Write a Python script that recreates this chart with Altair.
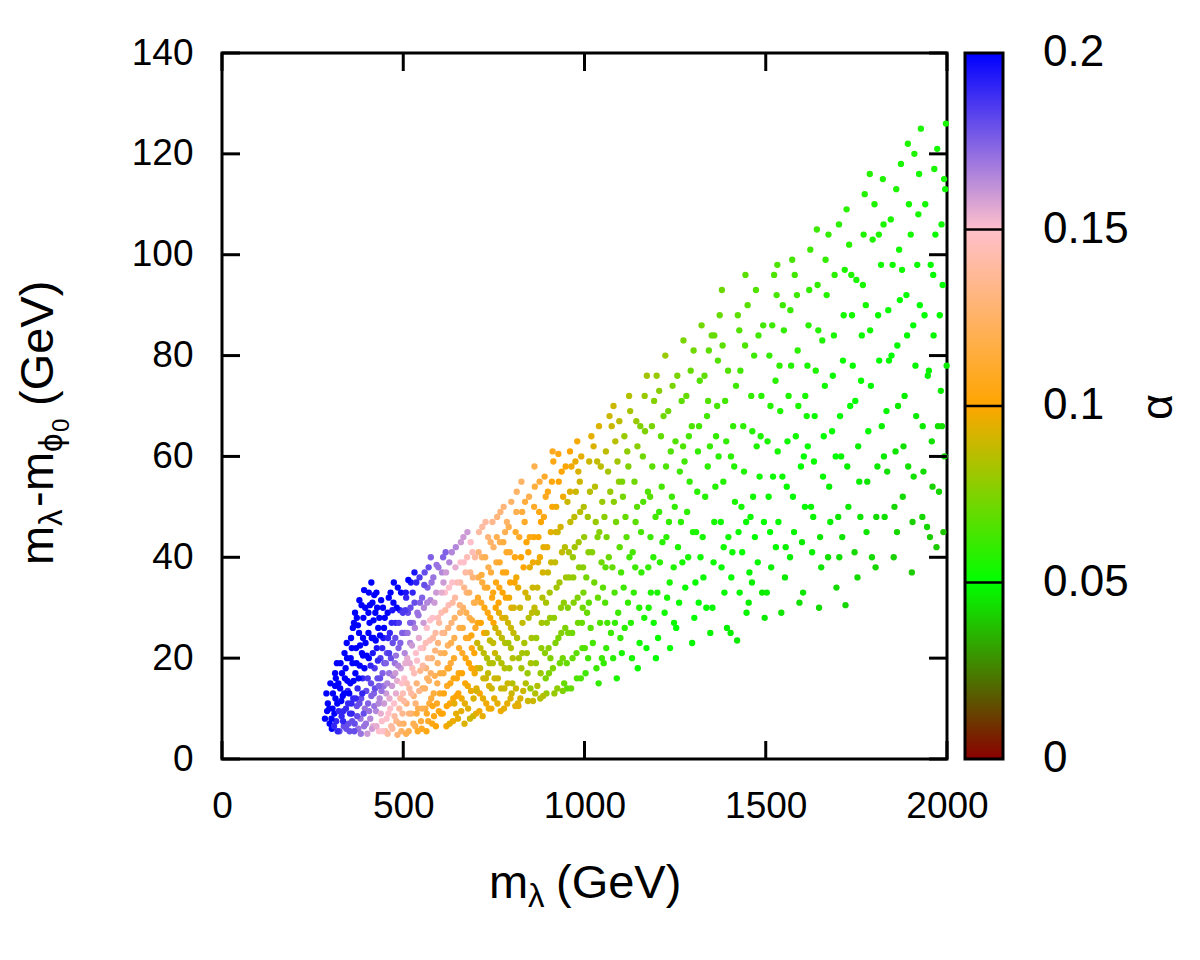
import altair as alt
import pandas as pd

# (m_lambda [GeV], m_lambda - m_phi0 [GeV], alpha)
pts_250_500 = [
(284,8,.2),(292,11,.2),(297,7,.2),(290,9.5,.2),
(303,6,.2),(306,13,.2),(310,9,.2),(312,17,.2),(315,7.5,.19),(318,11,.2),(321,15,.2),(324,5.5,.18),(327,19,.2),(330,8.5,.19),(333,12.5,.2),(336,6.5,.18),(339,16,.2),(342,10,.19),(345,20,.2),(347,13.5,.19),(349,7,.18),(341,18,.2),
(352,5.5,.18),(354,15,.2),(356,24,.2),(358,9,.19),(360,19,.2),(362,12,.19),(364,27,.2),(366,7,.18),(368,17,.2),(370,22,.2),(372,10.5,.18),(374,14,.19),(376,6,.17),(378,25,.2),(380,18.5,.2),(382,8,.17),(384,12,.18),(386,21,.2),(388,16,.19),(390,28,.2),(392,6.5,.17),(394,10,.17),(396,23,.2),(398,13.5,.18),(385,30.5,.2),(392,33.5,.2),(405,33,.2),(420,32.5,.2),
(401,5,.16),(403,11,.175),(405,20,.2),(407,27,.2),(409,8,.165),(411,15,.18),(413,24,.2),(415,31,.2),(417,6.5,.155),(419,13,.175),(421,18,.185),(423,29,.2),(425,9.5,.165),(427,22,.195),(429,16,.18),(431,26,.2),(433,5.5,.15),(435,12,.165),(437,20,.185),(439,31.5,.2),(441,7.5,.15),(443,17,.175),(445,24,.195),(447,11,.16),(449,28,.2),(446,14.5,.17),(438,9,.155),(428,30,.2),
(451,5.5,.14),(453,13,.16),(455,21,.18),(457,29,.2),(459,9,.15),(461,17,.17),(463,25,.19),(465,33,.2),(467,6.5,.14),(469,14.5,.16),(471,23,.18),(473,31,.2),(475,11,.15),(477,19,.17),(479,27,.19),(481,7.5,.135),(483,15.5,.155),(485,34,.2),(487,22,.175),(489,10,.14),(491,29.5,.19),(493,18,.16),(495,5.5,.125),(497,25,.175),(499,13,.145),(484,4.8,.13),(462,12,.155),(488,27,.185),
(288,13,.2),(299,15,.2),(305,10,.2),(309,6.5,.19),(313,12,.2),(317,19,.2),(322,9.5,.19),(326,14,.2),(331,17,.2),(334,7.5,.19),(338,21,.2),(343,6,.18),(346,15.5,.2),(329,11.5,.2),(319,5.5,.19),(302,8,.2),(335,9.5,.19),(348,11,.19),(344,23,.2),(312,14.5,.2),
(351,13,.2),(355,20,.2),(357,11,.19),(361,26,.2),(363,15.5,.2),(365,5.5,.18),(367,29,.2),(369,12,.19),(371,19,.2),(373,8.5,.18),(375,26.5,.2),(377,16,.2),(379,11,.18),(381,22.5,.2),(383,5,.17),(387,13,.19),(389,24,.2),(391,9,.18),(393,18,.2),(395,30,.2),(397,7,.17),(399,20.5,.2),(359,7.5,.18),(353,9,.19),(379,31.5,.2),
(402,16,.185),(404,25,.2),(406,9.5,.17),(408,30.5,.2),(410,18.5,.19),(412,12.5,.175),(414,6,.16),(416,21,.195),(418,27.5,.2),(420,10.5,.17),(422,14,.18),(424,23.5,.2),(426,6.5,.155),(430,19.5,.19),(432,11,.165),(434,28,.2),(436,16,.18),(440,13.5,.17),(442,22,.19),(444,5.5,.15),(448,19,.18),(436,24.5,.2),(426,33,.2),(444,30,.2),(412,35,.2),
(452,19,.175),(454,8,.15),(456,15,.165),(458,24,.19),(460,32,.2),(464,10,.15),(466,20,.18),(468,27,.19),(470,6,.14),(472,16.5,.165),(474,35,.2),(476,8.5,.14),(478,24,.18),(480,13,.155),(482,30,.2),(486,18.5,.165),(490,7,.13),(492,23,.175),(494,33,.2),(496,15,.15),(498,9,.135),(457,5,.14),(480,20.5,.17),(470,29.5,.195),(499,29,.185),
(296,10,.2),(314,16,.2),(337,13,.2),(358,22,.2),(372,28,.2),(389,20.5,.2),(404,29,.2),(418,24,.2),(433,14.5,.175),(447,26,.2),(461,21,.185),(478,17,.16),(492,12,.14),
]

pts_500_750 = [
(501,7,.125),(503,16,.15),(505,25,.175),(507,33,.195),(509,11,.13),(511,20,.155),(513,29,.18),(515,5.5,.12),(517,14,.14),(519,23,.165),(521,35,.195),(523,9,.125),(525,18,.145),(527,27,.17),(529,12.5,.13),(531,31,.18),(533,6.5,.12),(535,21,.15),(537,15,.13),(539,29,.17),(541,10,.12),(543,24,.155),(545,36,.185),(547,17.5,.135),(549,7.5,.115),(546,31,.175),
(551,6,.11),(553,14,.125),(555,22,.145),(557,30,.165),(559,37,.18),(561,10,.115),(563,18,.13),(565,26,.15),(567,34,.175),(569,7.5,.11),(571,15.5,.125),(573,23.5,.145),(575,31.5,.165),(577,12,.115),(579,20,.13),(581,28,.15),(583,36,.17),(585,8.5,.105),(587,16.5,.12),(589,25,.14),(591,33,.16),(593,11,.11),(595,19,.125),(597,38,.17),(599,27,.14),(590,6.5,.1),
(601,13,.11),(603,21,.125),(605,29,.145),(607,37,.165),(609,9,.1),(611,17,.115),(613,25,.13),(615,33,.15),(617,41,.175),(619,6.5,.098),(621,14.5,.11),(623,22.5,.125),(625,30.5,.145),(627,39,.165),(629,11,.1),(631,19,.115),(633,27,.13),(635,35,.15),(637,7.5,.097),(639,16,.105),(641,24,.12),(643,32,.14),(645,42,.165),(647,12.5,.1),
(651,8,.095),(653,17,.105),(655,26,.12),(657,35,.14),(659,43,.16),(661,12,.097),(663,21,.11),(665,30,.125),(667,39,.15),(669,7,.093),(671,15,.1),(673,24,.11),(675,33,.13),(677,45,.16),(679,10,.094),(681,19,.1),(683,28,.12),(685,37,.135),(687,13.5,.096),(689,22,.105),(691,41,.145),(693,8.5,.09),(695,31,.12),(697,17,.097),(699,26,.11),
(701,9,.095),(703,18,.095),(705,27,.105),(707,36,.12),(709,45,.14),(711,13,.1),(713,22,.088),(715,31,.11),(717,40,.125),(719,8.5,.095),(721,16,.09),(723,25,.1),(725,34,.115),(727,47,.14),(729,11,.097),(731,20,.085),(733,29,.105),(735,38,.12),(737,14.5,.093),(739,23.5,.088),(741,43,.125),(743,10,.097),(745,32,.105),(747,19,.085),(749,27,.1),
(502,11.5,.14),(504,21,.165),(506,29.5,.185),(508,5,.12),(510,15,.145),(512,25,.17),(514,35.5,.2),(516,9,.13),(518,19,.155),(520,30,.18),(522,13,.14),(524,22.5,.16),(526,33,.19),(528,7,.12),(530,17,.145),(532,26,.165),(534,11,.13),(536,35,.19),(538,19.5,.15),(540,5.5,.11),(542,28.5,.17),(544,13.5,.135),(548,22,.15),(531,37,.195),(508,32,.19),
(552,10,.12),(554,18.5,.14),(556,27,.16),(558,34.5,.18),(560,14,.125),(562,23,.145),(564,5.5,.105),(566,31,.165),(568,20,.135),(570,38,.18),(572,11,.115),(574,27.5,.15),(576,17,.125),(578,35,.17),(580,7,.105),(582,24,.14),(584,13,.115),(586,31,.16),(588,21.5,.13),(592,38.5,.17),(594,15,.12),(596,28,.145),(598,9.5,.105),(576,40,.175),(565,9,.11),
(602,17,.115),(604,9,.1),(606,33,.155),(608,25,.135),(610,40,.175),(612,13,.105),(614,21,.12),(616,29.5,.14),(618,37,.16),(620,10.5,.1),(622,18,.115),(624,26,.13),(626,34,.15),(628,7,.095),(630,15,.105),(632,23,.12),(634,41,.165),(636,31,.14),(638,12,.1),(640,20,.11),(642,28,.125),(644,38,.155),(646,9,.095),(648,16,.105),(649,35,.145),
(652,13,.1),(654,22,.11),(656,30.5,.13),(658,39,.15),(660,9.5,.095),(662,17,.1),(664,26,.115),(666,44,.16),(668,34,.135),(670,11,.095),(672,20,.105),(674,29,.12),(676,40,.145),(678,14.5,.097),(680,24,.11),(682,33,.125),(684,8,.09),(686,43,.15),(688,18,.1),(690,27.5,.115),(692,36,.13),(694,12,.093),(696,21,.1),(698,40,.14),(698,31,.12),
(702,14,.095),(704,23,.09),(706,32,.11),(708,41,.13),(710,9.5,.097),(712,18,.09),(714,27,.1),(716,36.5,.115),(718,46,.14),(720,12,.095),(722,21,.087),(724,30,.105),(726,40,.12),(728,16,.09),(730,25,.093),(732,34,.11),(734,44,.13),(736,10,.097),(738,19,.085),(740,28,.1),(742,37,.115),(744,14,.09),(746,47,.135),(748,23,.088),(748,33,.105),
(506,19,.155),(519,27,.175),(537,9,.115),(552,32,.175),(566,16,.125),(581,10.5,.105),(596,23,.13),(611,35,.16),(626,18,.11),(641,11,.095),(657,29,.125),(672,37,.14),(688,24.5,.105),(703,13.5,.092),(718,35,.115),(734,17,.088),(749,42,.125),
]

pts_750_1000 = [
(751,12,.095),(753,21,.09),(755,30,.1),(757,39,.115),(759,48,.13),(761,16,.09),(763,25,.09),(765,34,.105),(767,43,.12),(769,9.5,.097),(771,19,.085),(773,28,.095),(775,37,.105),(777,50,.13),(779,14,.09),(781,23,.085),(783,32,.1),(785,41,.11),(787,11,.095),(789,27,.09),(791,46,.12),(793,18,.083),(795,35,.1),(797,22,.085),(799,13,.09),
(801,15,.085),(804,25,.088),(807,35,.1),(810,45,.11),(813,53,.125),(816,11,.093),(819,20,.083),(822,30,.09),(825,40,.1),(828,49,.115),(831,13.5,.09),(834,23,.083),(837,33,.092),(840,43,.1),(843,17,.08),(846,28,.085),(849,38,.095),(836,51,.115),(818,10.5,.095),(844,11.5,.09),
(851,14,.08),(854,24,.083),(857,34,.09),(860,44,.1),(863,54,.115),(866,19,.08),(869,29,.085),(872,39,.095),(875,49,.105),(878,12,.085),(881,22,.078),(884,32,.085),(887,42,.095),(890,56,.11),(893,16,.075),(896,27,.08),(899,37,.09),(880,47,.1),(858,11.5,.09),(895,13,.08),
(902,17,.075),(905,28,.08),(908,39,.09),(911,50,.1),(914,59,.105),(917,13,.08),(920,23,.075),(923,34,.082),(926,45,.09),(929,55,.1),(932,19,.072),(935,30,.078),(938,41,.088),(941,52,.097),(944,15,.07),(947,26,.075),(949,36,.082),(928,60.5,.105),
(952,14,.068),(955,25,.074),(958,36,.08),(961,47,.088),(964,58,.097),(967,20,.07),(970,31,.076),(973,42,.082),(976,53,.09),(979,16,.065),(982,27,.072),(985,38,.078),(988,49,.086),(991,60,.095),(994,22,.067),(997,33,.074),(999,44,.08),
(752,16,.09),(754,26,.092),(756,35,.105),(758,44,.12),(760,11,.095),(762,20,.085),(764,29,.095),(766,39,.11),(768,49,.13),(770,14,.09),(772,24,.087),(774,33,.1),(776,43,.115),(778,10,.095),(780,18,.085),(782,28,.092),(784,37,.105),(786,47,.125),(788,15,.09),(790,23,.083),(792,32,.097),(794,41,.11),(796,12,.093),(798,30,.095),(798,51,.125),
(802,20,.085),(805,30,.092),(808,40,.105),(811,14,.09),(814,24,.085),(817,34,.095),(820,44,.11),(823,12,.093),(826,18,.083),(829,27,.088),(832,38,.1),(835,47,.11),(838,15,.085),(841,21,.082),(844,32,.09),(847,52,.12),(849,44,.105),(812,49,.12),(826,55,.125),(809,10.5,.095),
(852,19,.083),(855,29,.087),(858,39,.097),(861,50,.11),(864,13,.085),(867,24,.08),(870,34,.09),(873,44,.1),(876,55,.115),(879,17,.08),(882,27,.082),(885,37,.092),(888,48,.105),(891,21,.077),(894,31,.083),(897,42,.095),(899,53,.105),(870,14.5,.085),(886,12.5,.085),(862,58,.12),
(901,22,.077),(904,33,.083),(907,45,.095),(910,55,.103),(913,18,.075),(916,28,.078),(919,39,.088),(922,50,.097),(925,14,.078),(928,24,.074),(931,35,.082),(934,46,.092),(937,57,.1),(940,20,.072),(943,31,.078),(946,42,.086),(948,58,.1),(912,61,.108),(940,13.5,.075),
(951,19,.07),(954,30,.076),(957,41,.084),(960,53,.093),(963,14,.07),(966,25,.072),(969,36,.079),(972,48,.087),(975,59,.096),(978,21,.068),(981,32,.075),(984,43,.082),(987,55,.09),(990,16,.065),(993,27,.07),(996,38,.077),(998,50,.085),(980,63,.098),(960,61,.1),
(763,31,.1),(781,45,.12),(797,26,.09),(812,36,.097),(828,21,.083),(845,41,.1),(862,30,.088),(877,40,.097),(893,52,.108),(906,20,.075),(921,45,.092),(936,25,.076),(953,51,.09),(968,40,.08),(983,57,.093),(995,30,.072),
]

pts_1000_1400 = [
(1003,17,.062),(1007,29,.07),(1011,41,.077),(1015,53,.086),(1019,64,.095),(1023,23,.064),(1027,35,.072),(1031,47,.08),(1035,59,.088),(1039,15,.06),(1043,27,.065),(1047,39,.072),(1049,51,.08),(1025,62,.093),(1010,20,.063),(1040,66,.093),
(1053,19,.06),(1057,31,.066),(1061,44,.074),(1065,57,.083),(1069,68,.09),(1073,25,.062),(1077,38,.07),(1081,51,.077),(1085,63,.086),(1089,16,.055),(1093,29,.062),(1097,42,.068),(1080,70,.09),(1060,22,.06),(1095,55,.078),
(1103,21,.055),(1108,34,.062),(1113,48,.07),(1118,61,.078),(1123,72,.085),(1128,27,.057),(1133,41,.064),(1138,55,.072),(1143,67,.08),(1147,18,.052),(1120,31,.06),(1140,38,.062),(1110,64,.08),(1145,50,.068),
(1152,23,.053),(1157,37,.06),(1162,51,.066),(1167,65,.075),(1172,76,.082),(1177,30,.055),(1182,44,.061),(1187,58,.068),(1192,71,.076),(1197,20,.05),(1165,28,.055),(1190,40,.058),(1175,53,.066),
(1203,24,.052),(1208,39,.058),(1213,54,.064),(1218,68,.072),(1223,80,.08),(1228,32,.054),(1233,47,.06),(1238,61,.066),(1243,74,.074),(1247,27,.052),(1215,43,.058),(1235,35,.055),(1225,58,.065),
(1253,26,.05),(1258,42,.056),(1263,57,.062),(1268,71,.068),(1273,83,.074),(1278,34,.052),(1283,49,.058),(1288,64,.064),(1293,77,.07),(1297,23,.048),(1270,39,.054),(1290,55,.06),
(1303,28,.05),(1308,45,.055),(1313,61,.06),(1318,75,.066),(1323,86,.072),(1328,36,.052),(1333,52,.057),(1338,68,.063),(1343,81,.068),(1347,25,.048),(1320,40,.053),(1340,58,.059),
(1353,30,.049),(1358,47,.054),(1363,64,.06),(1368,79,.066),(1373,88,.07),(1378,38,.051),(1383,55,.057),(1388,71,.063),(1393,26,.047),(1397,44,.053),(1370,60,.058),
(1001,22,.066),(1005,36,.073),(1009,48,.082),(1013,59,.09),(1017,26,.067),(1021,41,.076),(1029,54,.086),(1033,18,.062),(1037,32,.07),(1041,45,.077),(1045,58,.087),(1048,20,.062),(1051,34,.068),(1055,48,.077),(1059,61,.087),(1063,27,.064),(1067,40,.071),(1071,53,.08),(1075,66,.09),(1079,20,.058),(1083,33,.065),(1087,47,.073),(1091,59,.082),(1099,24,.06),(1096,67,.087),
(1101,37,.064),(1106,52,.073),(1111,26,.058),(1116,44,.067),(1121,58,.075),(1126,69,.083),(1131,20,.054),(1136,33,.06),(1141,47,.068),(1146,62,.077),(1151,30,.057),(1156,45,.064),(1161,60,.072),(1166,72,.08),(1171,22,.052),(1176,38,.06),(1181,52,.067),(1186,66,.074),(1191,27,.053),(1196,48,.063),(1199,76,.08),
(1201,33,.055),(1206,49,.061),(1211,64,.069),(1221,29,.053),(1226,44,.059),(1231,69,.072),(1241,52,.062),(1246,38,.056),(1251,63,.066),(1256,76,.074),(1261,31,.052),(1266,47,.058),(1276,59,.063),(1281,72,.07),(1286,40,.055),(1296,66,.065),(1301,81,.072),(1306,35,.051),(1311,53,.058),(1316,66,.063),(1326,44,.054),(1331,76,.069),(1336,30,.049),(1346,62,.061),(1351,84,.07),(1356,39,.052),(1361,54,.057),(1366,70,.064),(1376,47,.053),(1381,82,.068),(1386,33,.049),(1391,63,.06),(1396,77,.066),
(1012,31,.068),(1036,44,.075),(1058,38,.068),(1084,27,.06),(1104,55,.074),(1124,40,.063),(1154,66,.075),(1183,33,.056),(1206,73,.077),(1236,22,.05),(1249,50,.06),(1272,62,.065),(1299,45,.056),(1315,31,.05),(1341,71,.066),(1358,84,.07),(1384,42,.053),(1379,93,.071),
]

pts_1400_2000 = [
(1403,25,.047),(1408,41,.052),(1413,58,.057),(1418,74,.062),(1423,88,.068),(1428,33,.049),(1433,50,.054),(1438,66,.059),(1443,82,.065),(1447,29,.048),(1425,45,.052),(1421,23.5,.046),
(1453,31,.047),(1458,48,.052),(1463,65,.057),(1468,80,.062),(1473,93,.066),(1478,39,.049),(1483,56,.054),(1488,72,.058),(1493,86,.063),(1497,28,.046),(1470,44,.05),
(1503,33,.047),(1508,52,.052),(1513,70,.057),(1518,86,.062),(1523,96,.065),(1528,42,.049),(1533,61,.054),(1538,78,.059),(1543,29,.045),(1547,90,.062),
(1553,36,.046),(1558,54,.051),(1563,72,.056),(1568,89,.061),(1573,99,.064),(1578,45,.048),(1583,64,.053),(1588,81,.058),(1593,31,.044),(1597,58,.05),
(1603,33,.045),(1608,50,.049),(1613,68,.054),(1618,86,.058),(1623,101,.062),(1628,41,.047),(1633,59,.051),(1638,77,.056),(1643,94,.06),(1647,30,.043),
(1653,38,.045),(1658,56,.049),(1663,74,.053),(1668,92,.057),(1673,104,.06),(1678,47,.047),(1683,65,.051),(1688,84,.055),(1695,34,.043),
(1703,40,.044),(1708,60,.048),(1713,79,.052),(1718,97,.056),(1723,109,.058),(1728,50,.046),(1733,70,.05),(1738,88,.054),(1720,30.5,.042),
(1753,36,.043),(1758,55,.047),(1763,75,.051),(1768,94,.055),(1773,112,.057),(1778,45,.045),(1783,65,.049),(1788,85,.053),(1795,103,.056),
(1803,38,.042),(1808,58,.046),(1813,79,.05),(1818,98,.054),(1823,115,.056),(1828,48,.044),(1833,69,.048),(1838,89,.052),(1845,107,.055),
(1853,40,.041),(1858,61,.045),(1863,82,.049),(1868,101,.053),(1873,118,.055),(1878,52,.043),(1883,72,.047),(1888,92,.051),(1895,110,.054),
(1903,37,.04),(1908,56,.044),(1913,78,.048),(1918,98,.052),(1923,116,.054),(1928,125,.055),(1933,66,.046),(1938,88,.05),(1945,46,.042),
(1953,44,.04),(1958,63,.044),(1963,84,.048),(1968,104,.052),(1973,121,.054),(1978,53,.042),(1983,73,.046),(1988,94,.05),(1995,113,.053),(1997,126,.055),
(1405,36,.05),(1410,66,.06),(1415,51,.055),(1430,77,.063),(1435,41,.05),(1440,57,.056),(1450,90,.067),(1455,37,.048),(1460,72,.06),(1465,52,.053),(1475,62,.056),(1480,84,.063),(1490,33,.046),(1495,47,.05),(1505,63,.055),(1510,80,.06),(1515,38,.047),(1520,56,.052),(1530,92,.064),(1535,47,.049),(1540,69,.056),(1550,85,.06),(1555,42,.047),(1560,63,.053),(1570,78,.057),(1575,52,.049),(1580,96,.063),(1590,70,.055),(1600,43,.046),(1605,60,.05),
(1615,78,.055),(1620,93,.06),(1625,50,.048),(1635,68,.052),(1645,85,.057),(1650,44,.045),(1660,64,.05),(1665,99,.06),(1675,54,.047),(1685,76,.052),(1690,96,.058),(1700,48,.045),(1705,68,.049),(1715,88,.054),(1725,58,.047),(1730,102,.058),(1740,78,.051),(1745,41,.043),(1750,95,.055),(1755,62,.047),(1765,84,.052),(1770,104,.056),(1780,55,.045),(1790,74,.049),(1800,110,.056),
(1805,48,.043),(1810,88,.052),(1820,66,.047),(1825,106,.055),(1835,57,.044),(1840,79,.049),(1850,98,.053),(1855,50,.042),(1860,113,.056),(1865,70,.046),(1870,91,.051),(1880,62,.044),(1890,84,.049),(1900,104,.054),(1905,47,.041),(1910,120,.056),(1915,68,.046),(1925,90,.05),(1935,57,.043),(1940,110,.054),(1950,77,.047),(1955,98,.051),(1960,54,.041),(1965,117,.055),(1975,66,.044),(1980,88,.049),(1985,106,.053),(1990,45,.039),(1993,60,.042),(1999,78,.046),
(1404,60,.058),(1427,85,.066),(1446,47,.052),(1462,35,.047),(1486,64,.056),(1512,45,.05),(1527,75,.058),(1546,56,.053),(1567,40,.047),(1586,92,.062),(1609,72,.055),(1631,48,.048),(1641,105,.062),(1656,83,.056),(1672,40,.044),(1693,60,.05),(1711,44,.045),(1736,96,.056),(1747,71,.05),(1761,48,.045),(1776,90,.054),(1793,40,.043),(1812,104,.056),(1826,60,.046),(1847,80,.05),(1862,45,.042),(1876,97,.053),(1893,58,.044),(1907,86,.05),(1921,108,.054),(1932,48,.042),(1947,76,.047),(1962,96,.051),(1971,42,.04),(1986,66,.044),(1992,115,.054),(1444,96,.068),(1532,98,.065),(1616,62,.051),(1702,106,.058),(1787,116,.057),(1892,122,.056),
]

x_tick_values = [0, 500, 1000, 1500, 2000]
y_tick_values = [0, 20, 40, 60, 80, 100, 120, 140]
cbar_tick_values = [0.05, 0.1, 0.15]
cbar_label_values = [0, 0.05, 0.1, 0.15, 0.2]
cbar_label_text = ["0", "0.05", "0.1", "0.15", "0.2"]
palette_domain = [0, 0.05, 0.1, 0.15, 0.2]
palette_colors = ["#8b0000", "#00ff00", "#ffa500", "#ffc0cb", "#0000ff"]

rows = pts_250_500 + pts_500_750 + pts_750_1000 + pts_1000_1400 + pts_1400_2000
df = pd.DataFrame(rows, columns=["m", "dm", "alpha"])

W, H = 725, 706
FONT = "Liberation Sans"
TICK = 18
xs = alt.Scale(domain=[0, 2000], nice=False, zero=False)
ys = alt.Scale(domain=[0, 140], nice=False, zero=False)
cs = alt.Scale(domain=[0, 0.2], nice=False, zero=False)

axis_style = dict(title=None, grid=False, domain=False, ticks=False, tickSize=0, format="d",
                  labelFont=FONT, labelFontSize=37, labelColor="black",
                  labelPadding=29, labelFlush=False, labelOverlap=False)

points = alt.Chart(df).mark_circle(size=40, opacity=1, strokeWidth=0).encode(
    x=alt.X("m:Q", scale=xs, axis=alt.Axis(values=x_tick_values, **axis_style)),
    y=alt.Y("dm:Q", scale=ys, axis=alt.Axis(values=y_tick_values, **axis_style)),
    color=alt.Color("alpha:Q", scale=alt.Scale(domain=palette_domain, range=palette_colors,
                                               interpolate="rgb"), legend=None),
)

xt = pd.DataFrame({"v": x_tick_values})
yt = pd.DataFrame({"v": y_tick_values})
rule = dict(color="black", strokeWidth=3)
bottom_ticks = alt.Chart(xt).mark_rule(**rule).encode(
    x=alt.X("v:Q", scale=xs, axis=None), y=alt.value(H), y2=alt.value(H - TICK))
top_ticks = alt.Chart(xt).mark_rule(**rule).encode(
    x=alt.X("v:Q", scale=xs, axis=None), y=alt.value(0), y2=alt.value(TICK))
left_ticks = alt.Chart(yt).mark_rule(**rule).encode(
    y=alt.Y("v:Q", scale=ys, axis=None), x=alt.value(0), x2=alt.value(TICK))
right_ticks = alt.Chart(yt).mark_rule(**rule).encode(
    y=alt.Y("v:Q", scale=ys, axis=None), x=alt.value(W), x2=alt.value(W - TICK))

# colour bar
grad = alt.LinearGradient(
    gradient="linear",
    stops=[alt.GradientStop(color=c, offset=d / 0.2) for c, d in zip(palette_colors, palette_domain)],
    x1=0, x2=0, y1=1, y2=0)
cb = pd.DataFrame({"lo": [palette_domain[0]], "hi": [palette_domain[-1]]})
cbar = alt.Chart(cb).mark_rect(fill=grad, stroke="black", strokeWidth=3).encode(
    y=alt.Y("lo:Q", scale=cs, axis=None), y2="hi:Q",
    x=alt.value(W + 18), x2=alt.value(W + 56))
cbar_ticks = alt.Chart(pd.DataFrame({"v": cbar_tick_values})).mark_rule(color="black", strokeWidth=2.5).encode(
    y=alt.Y("v:Q", scale=cs, axis=None), x=alt.value(W + 18), x2=alt.value(W + 56))
cbar_labels = alt.Chart(pd.DataFrame({"v": cbar_label_values, "t": cbar_label_text})).mark_text(
    align="left", baseline="middle", font=FONT, fontSize=44, color="black").encode(
    y=alt.Y("v:Q", scale=cs, axis=None), x=alt.value(W + 96), text="t:N")

one = pd.DataFrame({"k": [0]})


def piece(txt, x, y, size, angle=0, align="left"):
    kw = dict(text=txt, align=align, baseline="alphabetic", font=FONT, fontSize=size, color="black")
    if angle:
        kw["angle"] = angle
    return alt.Chart(one).mark_text(**kw).encode(x=alt.value(x), y=alt.value(y))


titles = [
    # x title: m_λ (GeV)
    piece("m", 267, 845, 47),
    piece("λ", 306, 854, 33),
    piece("(GeV)", 334, 845, 47),
    # y title: m_λ-m_ϕ0 (GeV)
    piece("m", -169, 512, 47, 270),
    piece("λ", -160, 473, 33, 270),
    piece("-", -169, 454, 47, 270),
    piece("m", -169, 438, 47, 270),
    piece("ϕ", -160, 399, 33, 270),
    piece("0", -153, 379, 24, 270),
    piece("(GeV)", -169, 353, 47, 270),
    # colour bar title
    piece("α", 950, 354, 45, 270, "center"),
]

chart = alt.layer(
    points, bottom_ticks, top_ticks, left_ticks, right_ticks,
    cbar, cbar_ticks, cbar_labels, *titles
).resolve_scale(x="independent", y="independent").properties(
    width=W, height=H,
    padding={"left": 214, "top": 45, "right": 240, "bottom": 180},
    autosize=alt.AutoSizeParams(type="none"),
    background="white",
).configure_view(stroke="black", strokeWidth=3)

chart.save("out.html", embed_options={"renderer": "svg", "actions": False})
